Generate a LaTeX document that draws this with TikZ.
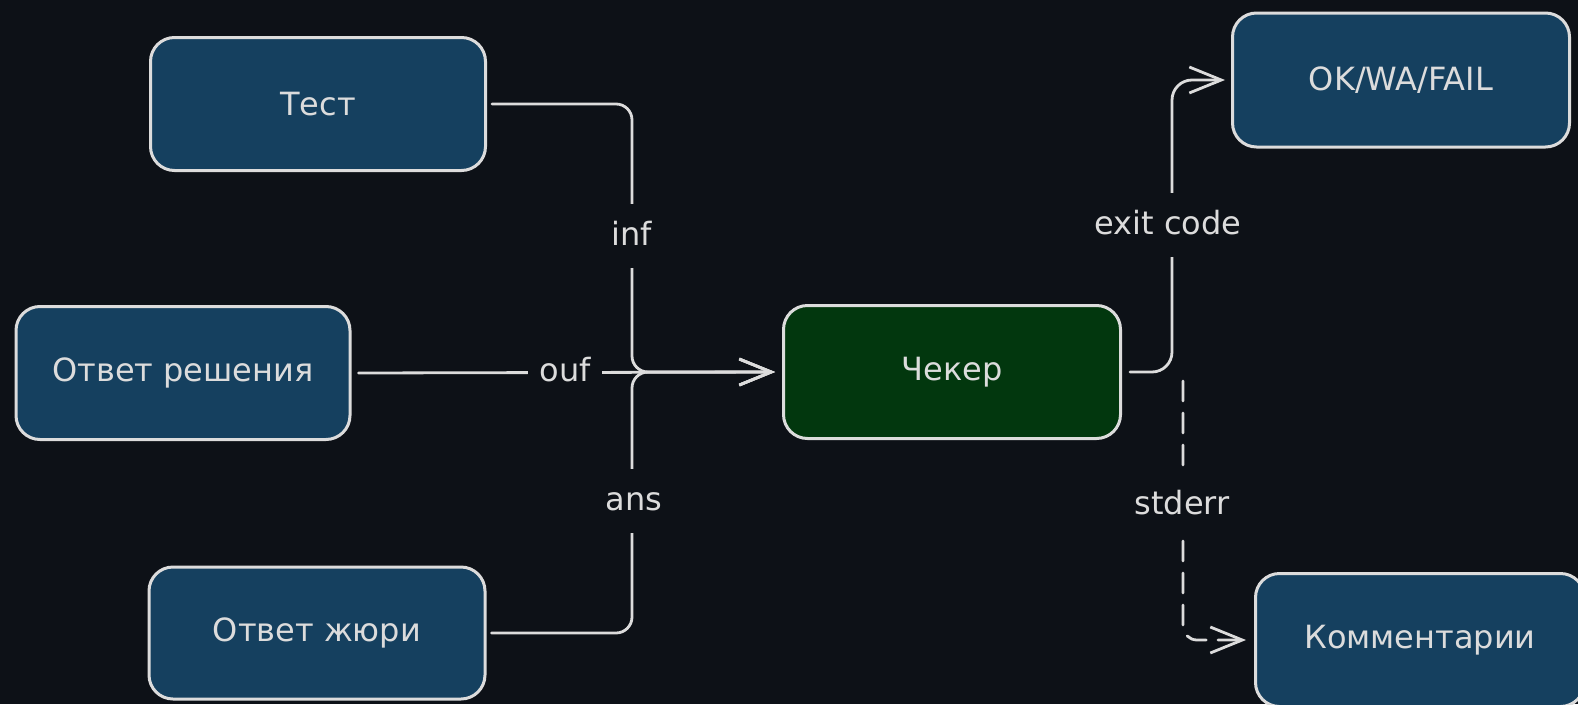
\documentclass[tikz,border=0pt]{standalone}
\usepackage{fontspec}
\setmainfont{DejaVu Sans}
\usetikzlibrary{arrows.meta}

\definecolor{bgc}{HTML}{0D1117}
\definecolor{boxblue}{HTML}{15405F}
\definecolor{boxgreen}{HTML}{02370E}
\definecolor{ink}{HTML}{DCDCDC}

\tikzset{
  box/.style={draw=ink, line width=3pt, rounded corners=24pt,
    fill=boxblue, minimum width=335pt, minimum height=133pt,
    text=ink, font=\fontsize{32}{38}\selectfont},
  greenbox/.style={box, fill=boxgreen},
  conn/.style={draw=ink, line width=2.8pt, line cap=round, line join=round,
    rounded corners=16pt, -{Straight Barb[length=32pt,width=26pt]}},
  dashconn/.style={conn, dash pattern=on 20pt off 12pt},
  lbl/.style={fill=bgc, text=ink, font=\fontsize{32}{38}\selectfont,
    inner xsep=11pt, inner ysep=18pt, text height=23pt, text depth=5pt}
}

\begin{document}
\begin{tikzpicture}[x=1pt,y=-1pt]
  % canvas
  \fill[bgc] (0,0) rectangle (1578,704);
  \useasboundingbox (0,0) rectangle (1578,704);

  % boxes
  \node[box] (test) at (318,104) {Тест};
  \node[box, minimum width=334pt] (sol) at (183,373) {Ответ решения};
  \node[box, minimum width=336pt, minimum height=132pt] (jury) at (317,633) {Ответ жюри};
  \node[greenbox, minimum width=337pt] (chk) at (952,372) {Чекер};
  \node[box, minimum width=337pt, minimum height=134pt] (ok) at (1401,80) {OK/WA/FAIL};
  \node[box, minimum width=329pt] (komm) at (1420,640) {Комментарии};

  % routing points
  \coordinate (j) at (632,372);
  \coordinate (ec) at (1172,80);
  \coordinate (es) at (1183,381);

  % inputs of the checker
  \draw[conn] ([xshift=5pt]test.east) -| (j) -- ([xshift=-7pt]chk.west);
  \draw[conn] ([xshift=5pt]jury.east) -| (j) -- ([xshift=-7pt]chk.west);
  \draw[conn] ([xshift=7pt]sol.east) -- ([xshift=-7pt]chk.west);

  % outputs of the checker
  \draw[conn, rounded corners=20pt] ([xshift=8pt]chk.east) -| (ec) -- ([xshift=-6pt]ok.west);
  \draw[dashconn, rounded corners=14pt] (es) |- ([xshift=-8pt]komm.west);

  % connector labels
  \node[lbl] (linf) at (632,236) {inf};
  \node[lbl] (louf) at (565,372) {ouf};
  \node[lbl] (lans) at (634,501) {ans};
  \node[lbl] (lexit) at (1168,225) {exit code};
  \node[lbl] (lerr) at (1182,505) {stderr};
\end{tikzpicture}
\end{document}
